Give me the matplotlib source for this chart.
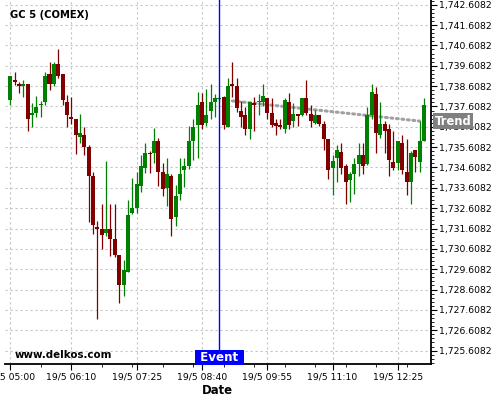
import matplotlib.pyplot as plt
import matplotlib.transforms as mtransforms
import pandas as pd
from matplotlib.ticker import FixedLocator, FuncFormatter, AutoMinorLocator

# 5 minute candles, 19/5 05:00 .. 12:55
opens = [1737.94, 1738.92, 1738.68, 1738.63, 1738.71, 1737.20, 1737.30, 1737.69, 1737.84, 1739.20,
         1738.72, 1739.69, 1739.20, 1737.82, 1737.10, 1736.99, 1736.12, 1736.20, 1735.61, 1734.18,
         1731.66, 1731.59, 1731.40, 1731.58, 1731.08, 1730.30, 1728.81, 1729.46, 1732.38, 1732.61,
         1733.71, 1734.59, 1735.33, 1735.33, 1735.89, 1734.38, 1733.61, 1734.18, 1732.18, 1733.31,
         1734.48, 1734.67, 1735.90, 1736.71, 1737.82, 1736.80, 1737.38, 1737.84, 1737.97, 1738.05,
         1736.61, 1738.71, 1738.61, 1737.38, 1737.18, 1736.51, 1737.76, 1737.84, 1737.85, 1738.02,
         1737.30, 1736.79, 1736.69, 1736.51, 1737.82, 1736.90, 1737.26, 1737.21, 1738.02, 1737.26,
         1736.80, 1737.17, 1736.77, 1735.99, 1734.59, 1735.08, 1735.39, 1734.67, 1733.98, 1734.30,
         1734.77, 1735.21, 1734.77, 1737.18, 1738.21, 1736.21, 1736.77, 1736.48, 1734.87, 1734.81,
         1735.79, 1734.38, 1733.90, 1735.49, 1734.87, 1735.89]
highs = [1739.12, 1739.30, 1738.82, 1738.90, 1738.71, 1737.79, 1738.10, 1737.87, 1739.30, 1739.79,
         1739.79, 1740.41, 1739.20, 1738.18, 1738.09, 1736.99, 1737.26, 1736.59, 1735.69, 1734.38,
         1731.97, 1732.79, 1734.95, 1732.79, 1732.79, 1730.30, 1730.08, 1732.99, 1734.07, 1734.38,
         1735.20, 1735.79, 1735.41, 1736.56, 1736.07, 1734.84, 1735.05, 1734.30, 1733.77, 1735.08,
         1735.08, 1736.67, 1736.97, 1738.31, 1738.28, 1738.49, 1738.69, 1738.20, 1738.07, 1738.12,
         1738.99, 1739.79, 1738.99, 1737.90, 1737.58, 1737.82, 1738.08, 1738.20, 1738.69, 1738.02,
         1738.02, 1736.97, 1736.97, 1738.02, 1738.28, 1737.79, 1737.26, 1738.02, 1738.90, 1737.66,
         1737.43, 1737.17, 1736.89, 1735.99, 1735.20, 1735.69, 1735.79, 1734.76, 1734.38, 1735.07,
         1735.79, 1735.79, 1737.58, 1738.69, 1738.58, 1737.82, 1736.89, 1736.77, 1736.38, 1735.89,
         1736.20, 1735.99, 1735.41, 1735.49, 1736.89, 1738.02]
lows = [1737.68, 1738.64, 1738.28, 1738.09, 1736.38, 1736.59, 1737.09, 1737.09, 1737.66, 1738.40,
        1738.61, 1738.99, 1737.66, 1736.59, 1736.76, 1735.28, 1735.79, 1735.20, 1731.95, 1731.36,
        1727.17, 1730.58, 1731.26, 1730.28, 1730.22, 1727.97, 1728.28, 1729.46, 1732.33, 1732.38,
        1733.40, 1734.35, 1734.35, 1734.84, 1733.68, 1733.20, 1732.71, 1731.26, 1731.74, 1733.00,
        1733.66, 1734.54, 1735.00, 1735.07, 1736.48, 1736.67, 1736.97, 1737.07, 1737.90, 1736.48,
        1736.61, 1738.08, 1737.33, 1736.59, 1736.20, 1735.99, 1736.38, 1737.18, 1737.62, 1736.97,
        1736.59, 1736.20, 1736.48, 1736.28, 1736.48, 1736.59, 1736.67, 1737.12, 1737.18, 1736.59,
        1736.77, 1736.67, 1735.49, 1734.05, 1733.28, 1733.89, 1734.27, 1732.79, 1732.90, 1733.30,
        1734.18, 1734.28, 1734.74, 1736.97, 1735.30, 1736.07, 1735.30, 1734.18, 1734.48, 1734.48,
        1734.28, 1733.28, 1732.79, 1734.38, 1734.38, 1735.89]
closes = [1739.10, 1738.82, 1738.63, 1738.71, 1737.00, 1737.30, 1737.58, 1737.74, 1739.10, 1738.72,
          1739.69, 1739.12, 1737.94, 1737.20, 1737.00, 1736.22, 1736.30, 1735.61, 1734.18, 1731.79,
          1731.59, 1731.30, 1731.58, 1731.10, 1730.30, 1728.81, 1729.56, 1732.26, 1732.61, 1733.79,
          1734.67, 1735.30, 1735.25, 1735.89, 1734.40, 1733.53, 1734.27, 1732.09, 1733.20, 1734.28,
          1734.67, 1735.90, 1736.61, 1737.67, 1736.71, 1737.18, 1737.82, 1738.02, 1738.02, 1736.71,
          1738.61, 1738.61, 1737.51, 1737.10, 1736.51, 1737.82, 1737.69, 1737.89, 1738.12, 1737.30,
          1736.72, 1736.67, 1736.59, 1737.92, 1736.71, 1737.26, 1737.12, 1738.02, 1737.30, 1736.90,
          1737.17, 1736.77, 1736.02, 1734.49, 1734.95, 1735.49, 1734.59, 1733.90, 1734.28, 1734.77,
          1735.21, 1734.69, 1737.18, 1738.31, 1736.31, 1736.77, 1736.41, 1734.99, 1734.59, 1735.89,
          1734.49, 1733.90, 1735.33, 1735.10, 1735.89, 1737.67]

tick_times = ['05:00', '06:10', '07:25', '08:40', '09:55', '11:10', '12:25']
event_time = '09:00'
trend_times = ['09:15', '12:50']
trend_values = [1737.88, 1736.89]
y_ticks = [1725.6082 + k for k in range(18)]


def draw_candles(ax, times):
    x = list(range(len(times)))
    colors = ['#008000' if c >= o else '#800000' for o, c in zip(opens, closes)]
    bottoms = [min(o, c) for o, c in zip(opens, closes)]
    heights = [max(abs(c - o), 0.06) for o, c in zip(opens, closes)]
    ax.vlines(x, lows, highs, colors=colors, lw=0.9, zorder=3)
    ax.bar(x, heights, bottom=bottoms, width=0.92, color=colors, zorder=4)


def main():
    times = list(pd.date_range('2020-05-19 05:00', periods=len(opens), freq='5min').strftime('%H:%M'))

    fig = plt.figure(figsize=(5, 4), dpi=100)
    ax = fig.add_axes([0.01, 0.09, 0.851, 0.91])

    draw_candles(ax, times)

    # trend line
    tx = [times.index(t) for t in trend_times]
    ax.plot(tx, trend_values, color='#a0a0a0', lw=2.2, linestyle=(0, (0.6, 1.2)),
            dash_capstyle='round', zorder=2)

    # event marker
    ex = times.index(event_time)
    ax.axvline(ex, color='#0000ff', lw=1, zorder=5)
    ax.text(ex, 0.0, ' Event ', transform=mtransforms.blended_transform_factory(ax.transData, ax.transAxes),
            ha='center', va='bottom', color='white', fontsize=8.6, fontweight='bold', zorder=10,
            bbox=dict(boxstyle='square,pad=0.12', fc='#0000ff', ec='none'))

    ax.text(1.0095, trend_values[-1], 'Trend',
            transform=mtransforms.blended_transform_factory(ax.transAxes, ax.transData),
            ha='left', va='center', color='white', fontsize=8.3, fontweight='bold', zorder=10,
            clip_on=False, bbox=dict(boxstyle='square,pad=0.15', fc='#808080', ec='none'))

    ax.set_xlim(-1.22, 96.5)
    ax.set_ylim(1724.95, 1742.84)

    ax.xaxis.set_major_locator(FixedLocator([times.index(t) for t in tick_times]))
    ax.set_xticklabels(['19/5 ' + t for t in tick_times])
    ax.xaxis.set_minor_locator(AutoMinorLocator(2))

    ax.yaxis.tick_right()
    ax.yaxis.set_major_locator(FixedLocator(y_ticks))
    ax.yaxis.set_major_formatter(FuncFormatter(lambda v, p: '{:,.4f}'.format(v)))
    ax.yaxis.set_minor_locator(AutoMinorLocator(5))

    ax.tick_params(axis='both', which='major', labelsize=6.7, length=4, width=0.8, pad=2)
    ax.tick_params(axis='both', which='minor', length=2, width=0.6)

    for side in ['left', 'top']:
        ax.spines[side].set_visible(False)
    for side in ['right', 'bottom']:
        ax.spines[side].set_linewidth(1.3)

    ax.grid(True, which='major', color='#c4c4c4', linestyle=(0, (2, 2.5)), lw=0.8, zorder=0)
    ax.set_axisbelow(True)

    ax.set_xlabel('Date', fontsize=8.4, fontweight='bold', labelpad=2)

    fig.text(0.02, 0.9625, 'GC 5 (COMEX)', fontsize=7.2, fontweight='bold', va='center')
    fig.text(0.03, 0.1125, 'www.delkos.com', fontsize=7.4, fontweight='bold', va='center')

    fig.savefig('out.png', dpi=100)


main()
